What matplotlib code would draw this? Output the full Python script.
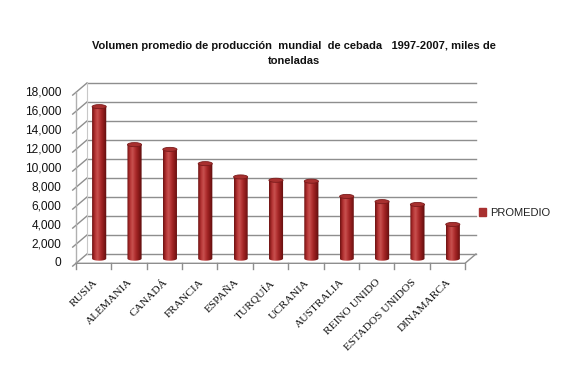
import numpy as np
import matplotlib
matplotlib.use("Agg")
import matplotlib.pyplot as plt
from matplotlib.patches import Ellipse, PathPatch, Patch
from matplotlib.path import Path

# ── Data ──────────────────────────────────────────────────────
paises = ["RUSIA", "ALEMANIA", "CANADÁ", "FRANCIA", "ESPAÑA", "TURQUÍA",
          "UCRANIA", "AUSTRALIA", "REINO UNIDO", "ESTADOS UNIDOS", "DINAMARCA"]
promedio = [16000, 12000, 11500, 10000, 8600, 8250, 8150, 6550, 6000, 5700, 3600]
yticks = list(range(0, 18001, 2000))
titulo = "Volumen promedio de producción  mundial  de cebada   1997-2007, miles de\ntoneladas"
serie = "PROMEDIO"

# 3D depth offset (data units) for back wall; bars sit at half depth
DX, DY = 0.31, 980
BAR_W = 0.40
ELL_H = 430

fig = plt.figure(figsize=(5.67, 3.85), dpi=100)
W, H = 567, 385
ax = fig.add_axes([76 / W, (H - 263.3) / H, 389 / W, 171 / H])
ax.set_axis_off()
n = len(paises)
x0, x1 = -0.5, n - 0.5
grid_c = "#8e8e8e"

# back wall gridlines + slanted side ticks
for v in yticks:
    ax.plot([x0 + DX, x1 + DX], [v + DY, v + DY], color=grid_c, lw=1, clip_on=False)
    ax.plot([x0 - 0.3 * DX, x0 + DX], [v - 0.3 * DY, v + DY], color=grid_c, lw=1, clip_on=False)
    ax.text(x0 - 0.42, v, f"{v:,}", ha="right", va="center", fontsize=8.6,
            family="Liberation Sans", color="#111111")

# side wall edges
ax.plot([x0, x0], [0, yticks[-1]], color="#b0b0b0", lw=1, clip_on=False)
ax.plot([x0 + DX, x0 + DX], [DY, yticks[-1] + DY], color="#c8c8c8", lw=0.8, clip_on=False)

# floor
ax.plot([x0, x1, x1 + DX], [0, 0, DY], color=grid_c, lw=1, clip_on=False)
for k in range(n + 1):
    ax.plot([x0 + k, x0 + k], [0, -560], color=grid_c, lw=1, clip_on=False)

# cylinder shading
shade = np.array([
    [0.42, 0.08, 0.08], [0.62, 0.14, 0.14], [0.74, 0.24, 0.24], [0.78, 0.32, 0.31],
    [0.72, 0.22, 0.22], [0.64, 0.15, 0.15], [0.56, 0.11, 0.11], [0.46, 0.08, 0.08],
    [0.36, 0.05, 0.05],
])
t = np.linspace(0, 1, 60)
grad = np.stack([np.interp(t, np.linspace(0, 1, len(shade)), shade[:, c]) for c in range(3)], axis=-1)
grad = grad[np.newaxis, :, :]

ang = np.linspace(np.pi, 2 * np.pi, 30)
for i, v in enumerate(promedio):
    xc = i + DX / 2
    yb = DY / 2
    yt = v + DY / 2
    r = BAR_W / 2
    bx = xc + r * np.cos(ang)
    by = yb + (ELL_H / 2) * np.sin(ang)
    verts = [(xc - r, yt)] + list(zip(bx, by)) + [(xc + r, yt), (xc - r, yt)]
    codes = [Path.MOVETO] + [Path.LINETO] * (len(verts) - 2) + [Path.CLOSEPOLY]
    body = PathPatch(Path(verts, codes), facecolor="none", edgecolor="none")
    ax.add_patch(body)
    im = ax.imshow(grad, extent=[xc - r, xc + r, yb - ELL_H, yt], aspect="auto",
                   interpolation="bilinear", zorder=3)
    im.set_clip_path(body)
    top = Ellipse((xc, yt), BAR_W, ELL_H, facecolor="#a8302f", edgecolor="#7a1b1b",
                  lw=0.6, zorder=4)
    ax.add_patch(top)
    ax.text(i + 0.06, -1850, paises[i], rotation=45, rotation_mode="anchor",
            ha="right", va="center", fontsize=8.2, family="Liberation Serif", color="#111111")

ax.set_xlim(x0, x1)
ax.set_ylim(0, yticks[-1])

fig.text(0.518, 1 - 53.5 / H, titulo, ha="center", va="center", fontsize=8,
         fontweight="bold", family="Liberation Sans", linespacing=1.6, color="#111111")

ax.legend(handles=[Patch(color="#a8302f", label=serie)], loc="center left",
          bbox_to_anchor=(479 / W, 1 - 213 / H), bbox_transform=fig.transFigure,
          frameon=False, handlelength=0.65, handleheight=0.65, handletextpad=0.35,
          borderpad=0, borderaxespad=0,
          prop={"family": "Liberation Sans", "size": 8})
for txt in ax.get_legend().get_texts():
    txt.set_color("#222222")

fig.savefig("out.png", dpi=100)
